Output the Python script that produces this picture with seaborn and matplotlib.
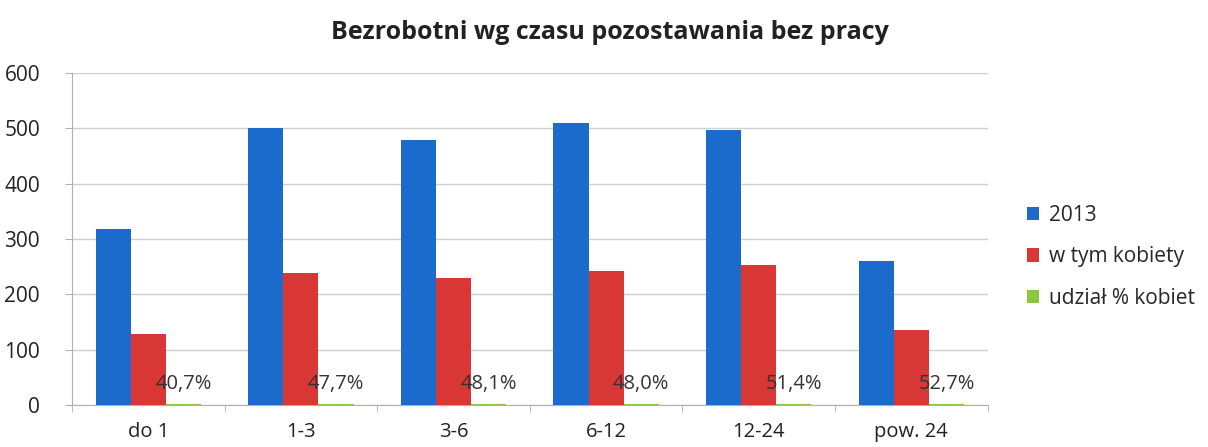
import numpy as np
import pandas as pd
import matplotlib
matplotlib.use("Agg")
import matplotlib.pyplot as plt
import seaborn as sns

# dane
kategorie = ["do 1", "1-3", "3-6", "6-12", "12-24", "pow. 24"]
ogolem_2013 = [318, 501, 479, 510, 497, 260]
kobiety = [128, 238, 229, 242, 253, 135]
udzial_kobiet = [0.407, 0.477, 0.481, 0.480, 0.514, 0.527]
udzial_etykiety = ["40,7%", "47,7%", "48,1%", "48,0%", "51,4%", "52,7%"]
serie = ["2013", "w tym kobiety", "udział % kobiet"]

df = pd.DataFrame({
    "kategoria": kategorie * 3,
    "seria": np.repeat(serie, len(kategorie)),
    "wartosc": ogolem_2013 + kobiety + udzial_kobiet,
})

sns.set_style("white")
plt.rcParams["font.family"] = ["Open Sans", "DejaVu Sans"]

fig = plt.figure(figsize=(12.08, 4.47), dpi=100)
ax = fig.add_axes([0.0596, 0.094, 0.758, 0.743])

kolory = ["#1a6bcc", "#d93636", "#8cc63f"]
sns.barplot(data=df, x="kategoria", y="wartosc", hue="seria", palette=kolory,
            width=0.69, saturation=1, linewidth=0, ax=ax, zorder=3)

# zielone słupki są prawie zerowe - obrys, żeby była widoczna kreska
for p in ax.containers[2]:
    p.set_edgecolor(kolory[2])
    p.set_linewidth(1.5)

# etykiety udziału nad zielonymi słupkami
ax.bar_label(ax.containers[2], labels=udzial_etykiety, padding=8,
             fontsize=14.5, color="#333333")

ax.set_ylim(0, 600)
ax.set_xlim(-0.5, len(kategorie) - 0.5)
ax.set_yticks(range(0, 601, 100))
ax.yaxis.grid(True, color="#cfcfcf", linewidth=1, zorder=0)
ax.set_xlabel("")
ax.set_ylabel("")
fig.text(0.505, 0.928, "Bezrobotni wg czasu pozostawania bez pracy",
         ha="center", va="center", fontsize=18, fontweight="bold",
         color="#222222")

for s in ["top", "right"]:
    ax.spines[s].set_visible(False)
ax.spines["left"].set_color("#b0b0b0")
ax.spines["bottom"].set_color("#b0b0b0")

ax.tick_params(axis="y", labelsize=15, length=5, color="#b0b0b0",
               left=True, pad=18, labelcolor="#222222")
ax.tick_params(axis="x", which="major", labelsize=14.5, length=0, pad=12,
               labelcolor="#222222")
ax.set_xticks(np.arange(-0.5, len(kategorie)), minor=True)
ax.tick_params(axis="x", which="minor", length=5, color="#b0b0b0", bottom=True)

ax.legend(loc="center left", bbox_to_anchor=(1.022, 0.446), frameon=False,
          fontsize=15, handlelength=0.6, handleheight=0.6,
          labelspacing=1.0, handletextpad=0.5)

fig.savefig("out.png", dpi=100)
